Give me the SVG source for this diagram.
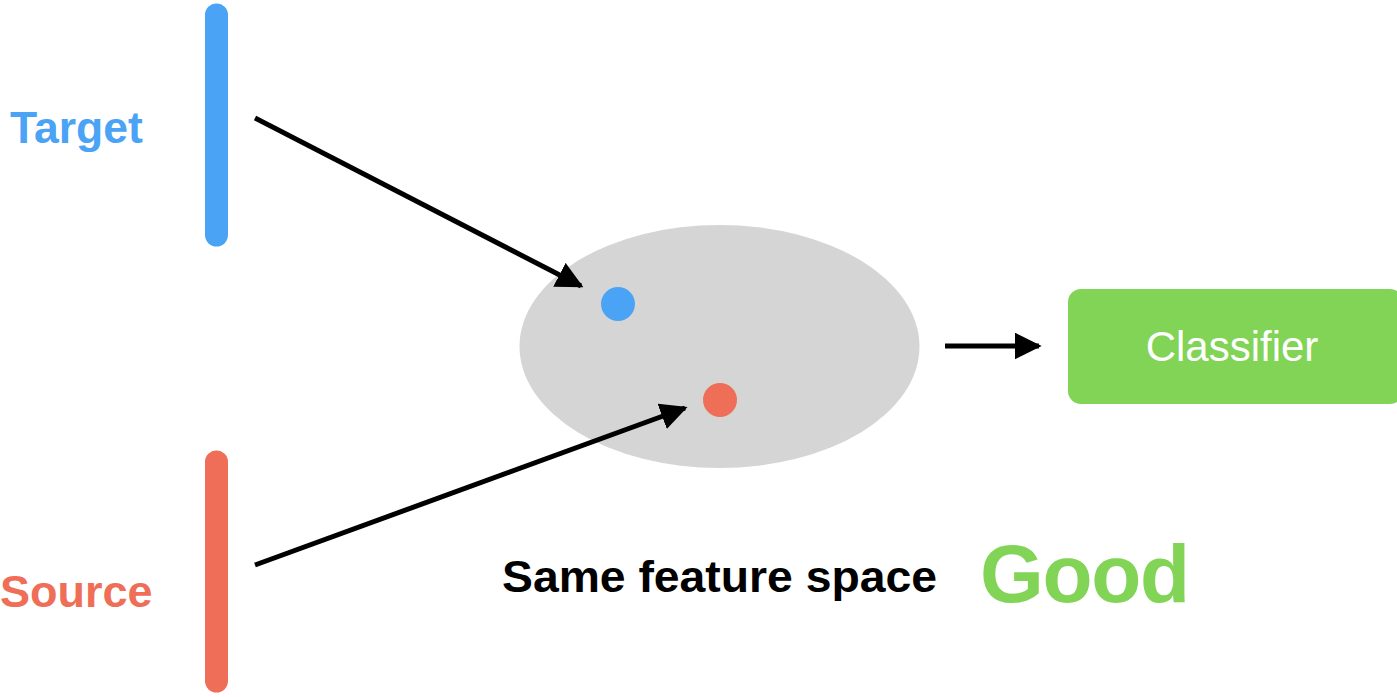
<svg xmlns="http://www.w3.org/2000/svg" width="1397" height="697" viewBox="0 0 1397 697">
<style>
text{font-family:"Liberation Sans",Arial,sans-serif;font-weight:bold}
.bar{stroke-width:23;stroke-linecap:round}
.conn{stroke:#000;stroke-width:5;fill:none;marker-end:url(#ah)}
</style>
<defs>
<marker id="ah" viewBox="0 0 10 10" refX="9" refY="5" markerWidth="5.4" markerHeight="5.4" orient="auto" markerUnits="strokeWidth">
<path d="M0,0 L10,5 L0,10 z" fill="#000"/>
</marker>
</defs>
<rect width="1397" height="697" fill="#fff"/>
<g id="target">
<line class="bar" x1="216.5" y1="15" x2="216.5" y2="235" stroke="#4aa3f5"/>
<text x="10" y="143" font-size="44.5" fill="#4aa3f5">Target</text>
</g>
<g id="source">
<line class="bar" x1="216.5" y1="462" x2="216.5" y2="681" stroke="#ee6e58"/>
<text x="0" y="607" font-size="45" fill="#ee6e58">Source</text>
</g>
<g id="feature-space">
<ellipse cx="719.5" cy="346.5" rx="200" ry="121.5" fill="#d5d5d5"/>
<circle cx="618" cy="304" r="17" fill="#4aa3f5"/>
<circle cx="720" cy="400" r="17" fill="#ee6e58"/>
</g>
<g id="classifier">
<rect x="1068" y="289" width="335" height="115" rx="13" fill="#82d457"/>
<text x="1232" y="361" font-size="42" style="font-weight:normal" fill="#fff" text-anchor="middle">Classifier</text>
</g>
<g id="labels">
<text x="502" y="592" font-size="45" fill="#000" textLength="435" lengthAdjust="spacingAndGlyphs">Same feature space</text>
<text x="980" y="602" font-size="82" fill="#82d457" textLength="210">Good</text>
</g>
<g id="connectors">
<line class="conn" x1="255" y1="118" x2="581" y2="286"/>
<line class="conn" x1="255" y1="565" x2="685" y2="408"/>
<line class="conn" x1="945" y1="346" x2="1039" y2="346"/>
</g>
</svg>
